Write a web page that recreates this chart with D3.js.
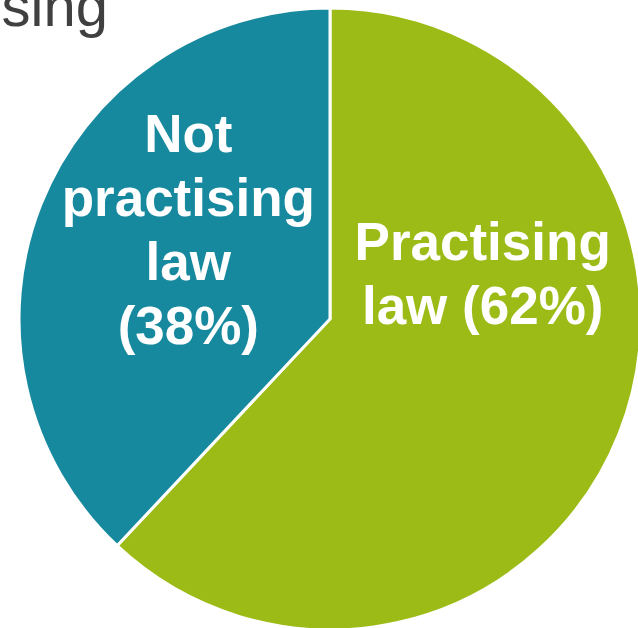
<!DOCTYPE html>
<html>
<head>
<meta charset="utf-8">
<script src="https://cdn.jsdelivr.net/npm/d3@7"></script>
<style>
  html, body { margin: 0; padding: 0; background: #fff; overflow: hidden; }
  svg { display: block; font-family: "Liberation Sans", Arial, sans-serif; }
</style>
</head>
<body>
<div id="chart"></div>
<script>
const width = 638;
const height = 628;

// chart data
const categories = ["Practising law", "Not practising law"];
const shares = [62, 38];
const labelLines = [["Practising", "law (62%)"], ["Not", "practising", "law", "(38%)"]];
const colors = ["#9cbb17", "#17899e"];

const cx = 330, cy = 319, radius = 311;

const svg = d3.select("#chart").append("svg")
    .attr("width", width)
    .attr("height", height);

// title, mostly off the left edge in the original
svg.append("text")
    .attr("x", 108)
    .attr("y", 26)
    .attr("text-anchor", "end")
    .attr("fill", "#404040")
    .style("font-size", "58px")
    .text("Practising");

const pie = d3.pie().sort(null).value(d => d);
const arc = d3.arc().innerRadius(0).outerRadius(radius);

const g = svg.append("g").attr("transform", `translate(${cx},${cy})`);

const arcs = pie(shares);

g.selectAll("path")
    .data(arcs)
    .join("path")
    .attr("d", arc)
    .attr("fill", (d, i) => colors[i])
    .attr("stroke", "#fff")
    .attr("stroke-width", 3)
    .attr("stroke-linejoin", "miter");

// label centres: centroid of a label arc, nudged to match the original layout
const labelArc = d3.arc().innerRadius(0).outerRadius(radius * 0.98);
const nudge = [[11, -102], [0, -34]];
const lineH = 64;

g.selectAll("text.lbl")
    .data(arcs)
    .join("text")
    .attr("class", "lbl")
    .attr("text-anchor", "middle")
    .attr("fill", "#fff")
    .style("font-size", "53px")
    .style("font-weight", "bold")
    .each(function(d, i) {
        const [x, y] = labelArc.centroid(d);
        const lines = labelLines[i];
        const t = d3.select(this);
        const x0 = x + nudge[i][0];
        const y0 = y + nudge[i][1] - (lines.length - 1) * lineH / 2;
        lines.forEach((s, k) => {
            t.append("tspan")
                .attr("x", x0)
                .attr("y", y0 + k * lineH + 19)
                .text(s);
        });
    });
</script>
</body>
</html>
